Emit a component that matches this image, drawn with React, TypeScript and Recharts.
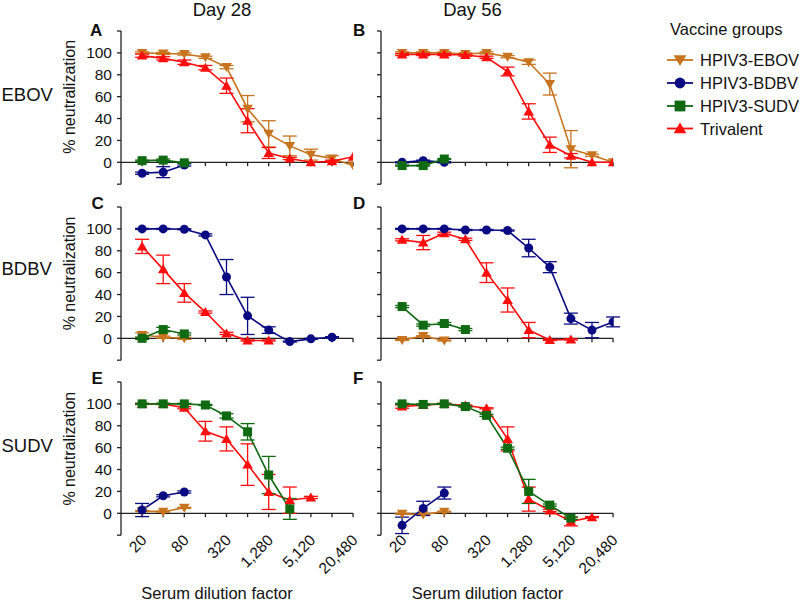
import React from 'react';
import { LineChart, Line, XAxis, YAxis, ReferenceLine, ErrorBar } from 'recharts';

const DILUTIONS = [20, 40, 80, 160, 320, 640, 1280, 2560, 5120, 10240, 20480];
const X_TICKS = [20, 80, 320, 1280, 5120, 20480];
const X_TICK_LABELS = ['20', '80', '320', '1,280', '5,120', '20,480'];
const Y_TICKS = [-20, 0, 20, 40, 60, 80, 100, 120];
const Y_LABELLED = [0, 20, 40, 60, 80, 100];

const DAYS = ['Day 28', 'Day 56'];
const VIRUSES = ['EBOV', 'BDBV', 'SUDV'];
const PANEL_LETTERS = ['A', 'B', 'C', 'D', 'E', 'F'];
const GROUPS = ['HPIV3-EBOV', 'HPIV3-BDBV', 'HPIV3-SUDV', 'Trivalent'];

// Panel A: Day 28, EBOV
const A_EBOV = [100, 99.5, 99, 96, 87, 49, 26, 15, 7, 3.5, -3];
const A_EBOV_ERR = [1, 1, 1, 1, 1.5, 12, 12, 9, 5, 2.5, 0];
const A_BDBV = [-10, -9, -2.5];
const A_BDBV_ERR = [1, 5, 1];
const A_SUDV = [1.5, 2, -0.5];
const A_SUDV_ERR = [0.5, 1, 0.5];
const A_TRI = [97.5, 95, 91.5, 86.5, 70, 38, 8.5, 3.5, 0, 1, 5];
const A_TRI_ERR = [1.5, 1.5, 2, 2, 7, 11, 5, 1, 0, 1, 0];

// Panel B: Day 56, EBOV
const B_EBOV = [100, 100, 100, 99, 100, 96.5, 91.5, 71.5, 12, 6.5, 0];
const B_EBOV_ERR = [1, 1, 1, 1, 1, 1, 2, 10, 17, 1, 0];
const B_BDBV = [0, 1.5, 0];
const B_BDBV_ERR = [0.5, 0.5, 0.5];
const B_SUDV = [-3, -3, 3];
const B_SUDV_ERR = [0.5, 0.5, 0.5];
const B_TRI = [98.5, 98.5, 98.5, 98, 96, 83, 46.5, 16, 6, 0, 0];
const B_TRI_ERR = [1, 1, 1, 1, 1, 4, 7, 7, 2, 0, 0];

// Panel C: Day 28, BDBV
const C_EBOV = [3, 1, 0];
const C_EBOV_ERR = [2, 1, 1];
const C_BDBV = [100, 100, 99.7, 94.5, 56, 20.5, 7.5, -3, -0.5, 1];
const C_BDBV_ERR = [0.5, 0.5, 0.5, 1, 16, 17, 3, 0.5, 0.5, 0.5];
const C_SUDV = [0, 8, 4];
const C_SUDV_ERR = [1, 2, 1];
const C_TRI = [84, 63, 41.5, 24, 4.5, -2, -2];
const C_TRI_ERR = [6.5, 13, 8.5, 1, 1, 0.5, 0.5];

// Panel D: Day 56, BDBV
const D_EBOV = [-1.5, 2, -2];
const D_EBOV_ERR = [0.5, 0.5, 0.5];
const D_BDBV = [100, 100, 100, 99, 99, 98.5, 82.5, 65, 18, 7.5, 15];
const D_BDBV_ERR = [0.5, 0.5, 0.5, 0.5, 0.5, 0.5, 8, 5, 5, 7, 4.5];
const D_SUDV = [29, 12, 13.5, 8];
const D_SUDV_ERR = [1, 1, 1, 1];
const D_TRI = [90, 87.5, 96, 90.5, 60, 35, 7.5, -1.5, -1];
const D_TRI_ERR = [1, 6.5, 1, 1, 9, 11, 7, 0.5, 0.5];

// Panel E: Day 28, SUDV
const E_EBOV = [2, 1.5, 5];
const E_EBOV_ERR = [0.5, 0.5, 0.5];
const E_BDBV = [3, 16, 19.5];
const E_BDBV_ERR = [6, 1, 1];
const E_SUDV = [100, 100, 100, 99, 89, 74.5, 35, 4];
const E_SUDV_ERR = [0.5, 0.5, 0.5, 0.5, 2, 7.5, 17, 9.5];
const E_TRI = [100, 100, 96.5, 75, 68, 44.5, 19.5, 12, 14.5];
const E_TRI_ERR = [0.5, 0.5, 1, 9, 11, 19, 16, 12, 1];

// Panel F: Day 56, SUDV
const F_EBOV = [-0.5, -1, 1.5];
const F_EBOV_ERR = [0.5, 0.5, 0.5];
const F_BDBV = [-11, 4.5, 18.5];
const F_BDBV_ERR = [7.5, 6.5, 5.5];
const F_SUDV = [100, 99.5, 100, 97.5, 89.5, 59.5, 20, 7.5, -4.5];
const F_SUDV_ERR = [0.5, 0.5, 0.5, 0.5, 1, 1, 11, 1, 1];
const F_TRI = [97.5, 99, 100, 98.5, 96, 68, 13, 2.5, -7.5, -3.5];
const F_TRI_ERR = [1.5, 0.5, 0.5, 0.5, 0.5, 11, 11, 1, 4, 0.5];

const COLORS: Record<string, string> = {
  ebov: '#C8731E',
  bdbv: '#0A0A82',
  sudv: '#0F6A12',
  tri: '#FF0D0D',
};
const SERIES_KEYS = ['ebov', 'bdbv', 'sudv', 'tri'];

const FONT = '"Liberation Sans", Arial, Helvetica, sans-serif';

type SeriesDef = { key: string; vals: number[]; errs: number[] };
type PanelDef = { row: number; col: number; series: SeriesDef[] };

const PANELS: PanelDef[] = [
  {
    row: 0, col: 0, series: [
      { key: 'ebov', vals: A_EBOV, errs: A_EBOV_ERR },
      { key: 'bdbv', vals: A_BDBV, errs: A_BDBV_ERR },
      { key: 'sudv', vals: A_SUDV, errs: A_SUDV_ERR },
      { key: 'tri', vals: A_TRI, errs: A_TRI_ERR },
    ],
  },
  {
    row: 0, col: 1, series: [
      { key: 'ebov', vals: B_EBOV, errs: B_EBOV_ERR },
      { key: 'bdbv', vals: B_BDBV, errs: B_BDBV_ERR },
      { key: 'sudv', vals: B_SUDV, errs: B_SUDV_ERR },
      { key: 'tri', vals: B_TRI, errs: B_TRI_ERR },
    ],
  },
  {
    row: 1, col: 0, series: [
      { key: 'ebov', vals: C_EBOV, errs: C_EBOV_ERR },
      { key: 'sudv', vals: C_SUDV, errs: C_SUDV_ERR },
      { key: 'tri', vals: C_TRI, errs: C_TRI_ERR },
      { key: 'bdbv', vals: C_BDBV, errs: C_BDBV_ERR },
    ],
  },
  {
    row: 1, col: 1, series: [
      { key: 'ebov', vals: D_EBOV, errs: D_EBOV_ERR },
      { key: 'sudv', vals: D_SUDV, errs: D_SUDV_ERR },
      { key: 'tri', vals: D_TRI, errs: D_TRI_ERR },
      { key: 'bdbv', vals: D_BDBV, errs: D_BDBV_ERR },
    ],
  },
  {
    row: 2, col: 0, series: [
      { key: 'ebov', vals: E_EBOV, errs: E_EBOV_ERR },
      { key: 'bdbv', vals: E_BDBV, errs: E_BDBV_ERR },
      { key: 'tri', vals: E_TRI, errs: E_TRI_ERR },
      { key: 'sudv', vals: E_SUDV, errs: E_SUDV_ERR },
    ],
  },
  {
    row: 2, col: 1, series: [
      { key: 'ebov', vals: F_EBOV, errs: F_EBOV_ERR },
      { key: 'bdbv', vals: F_BDBV, errs: F_BDBV_ERR },
      { key: 'tri', vals: F_TRI, errs: F_TRI_ERR },
      { key: 'sudv', vals: F_SUDV, errs: F_SUDV_ERR },
    ],
  },
];

// layout
const PLOT_LEFT = [120.6, 380.6];
const PLOT_TOP = [30.5, 207.1, 382.4];
const PLOT_W = 232.1;
const PLOT_H = 153.2;
const Y_AXIS_W = 60;
const ML = 10;
const MT = 10;
const MR = 15;
const X_AXIS_H = 50;

function Marker({ kind, cx, cy, color, s = 1 }: { kind: string; cx: number; cy: number; color: string; s?: number }) {
  if (cx == null || cy == null || isNaN(cx) || isNaN(cy)) return null;
  if (kind === 'bdbv') return <circle cx={cx} cy={cy} r={4.5 * s} fill={color} />;
  if (kind === 'sudv')
    return <rect x={cx - 4.5 * s} y={cy - 4.5 * s} width={9 * s} height={9 * s} fill={color} />;
  if (kind === 'ebov')
    return (
      <polygon
        points={`${cx - 5.3 * s},${cy - 4 * s} ${cx + 5.3 * s},${cy - 4 * s} ${cx},${cy + 5 * s}`}
        fill={color}
      />
    );
  return (
    <polygon
      points={`${cx - 5.3 * s},${cy + 4 * s} ${cx + 5.3 * s},${cy + 4 * s} ${cx},${cy - 5 * s}`}
      fill={color}
    />
  );
}

function makeXTick(bottomY: number) {
  return (props: any) => {
    const { x, payload } = props;
    const i = X_TICKS.indexOf(payload.value);
    const px = x + 5.5;
    const py = bottomY + 6;
    return (
      <text
        x={px}
        y={py}
        transform={`rotate(-45 ${px} ${py})`}
        textAnchor="end"
        fontSize={15.5}
        fontFamily={FONT}
        fill="#111"
      >
        {i >= 0 ? X_TICK_LABELS[i] : ''}
      </text>
    );
  };
}

function Panel({ panel }: { panel: PanelDef }) {
  const { row, col } = panel;
  const isBottom = row === 2;
  const left = PLOT_LEFT[col] - Y_AXIS_W - ML;
  const top = PLOT_TOP[row] - MT;
  const width = ML + Y_AXIS_W + PLOT_W + MR;
  const height = MT + PLOT_H + (isBottom ? X_AXIS_H : 10);
  const showYLabels = col === 0;
  return (
    <div style={{ position: 'absolute', left, top, width, height }}>
      <LineChart
        width={width}
        height={height}
        margin={{ top: MT, left: ML, right: MR, bottom: isBottom ? 0 : 10 }}
      >
        <XAxis
          dataKey="x"
          type="number"
          scale="log"
          domain={[10, 20480]}
          ticks={X_TICKS}
          interval={0}
          allowDataOverflow
          hide={!isBottom}
          axisLine={false}
          tickLine={false}
          height={X_AXIS_H}
          tick={makeXTick(MT + PLOT_H)}
        />
        <YAxis
          type="number"
          domain={[-20, 120]}
          ticks={Y_TICKS}
          interval={0}
          width={Y_AXIS_W}
          allowDataOverflow
          axisLine={{ stroke: '#222', strokeWidth: 1.3 }}
          tickLine={{ stroke: '#222', strokeWidth: 1.3 }}
          tickSize={4}
          tickMargin={5}
          tick={{ fill: '#111', fontSize: 15.5, fontFamily: FONT }}
          tickFormatter={(v: number) => (showYLabels && Y_LABELLED.includes(v) ? String(v) : '')}
        />
        <ReferenceLine
          segment={[{ x: 10, y: 0 }, { x: 20480, y: 0 }]}
          stroke="#222"
          strokeWidth={1.3}
          ifOverflow="visible"
        />
        {DILUTIONS.map((d) => (
          <ReferenceLine
            key={'t' + d}
            segment={[{ x: d, y: 0 }, { x: d, y: -3.5 }]}
            stroke="#222"
            strokeWidth={1.3}
            ifOverflow="visible"
          />
        ))}
        {panel.series.map((s) => {
          const data = s.vals.map((v, i) => ({ x: DILUTIONS[i], y: v, err: s.errs[i] }));
          const color = COLORS[s.key];
          return (
            <Line
              key={s.key}
              data={data}
              dataKey="y"
              type="linear"
              stroke={color}
              strokeWidth={1.6}
              isAnimationActive={false}
              dot={(p: any) => (
                <Marker key={s.key + p.index} kind={s.key} cx={p.cx} cy={p.cy} color={color} />
              )}
              activeDot={false}
            >
              <ErrorBar dataKey="err" direction="y" width={7} stroke={color} strokeWidth={1.3} />
            </Line>
          );
        })}
      </LineChart>
    </div>
  );
}

function Overlay() {
  const rowBaselines = [101, 275, 451.7];
  const letterPos = [
    [90, 35.5],
    [353, 35.5],
    [91.5, 208.5],
    [353, 208.5],
    [91.5, 383.5],
    [353, 383.5],
  ];
  const dayCenters = [222, 472.5];
  const xlabCenters = [217, 487.5];
  const legendRows = [60, 83, 106, 128.5];
  return (
    <svg
      width={800}
      height={601}
      style={{ position: 'absolute', left: 0, top: 0, pointerEvents: 'none' }}
      fontFamily={FONT}
    >
      {DAYS.map((d, i) => (
        <text key={d} x={dayCenters[i]} y={15.5} textAnchor="middle" fontSize={18.5} fill="#111">
          {d}
        </text>
      ))}
      {VIRUSES.map((v, i) => (
        <text key={v} x={1.5} y={rowBaselines[i]} fontSize={18.5} fill="#111">
          {v}
        </text>
      ))}
      {PANEL_LETTERS.map((l, i) => (
        <text key={l} x={letterPos[i][0]} y={letterPos[i][1]} fontSize={17} fontWeight="bold" fill="#111">
          {l}
        </text>
      ))}
      {PLOT_TOP.map((t, i) => {
        const cy = t + 66.3;
        return (
          <text
            key={'yl' + i}
            x={75}
            y={cy}
            transform={`rotate(-90 75 ${cy})`}
            textAnchor="middle"
            fontSize={16}
            fill="#111"
          >
            % neutralization
          </text>
        );
      })}
      {xlabCenters.map((c, i) => (
        <text key={'xl' + i} x={c} y={599} textAnchor="middle" fontSize={16.5} fill="#111">
          Serum dilution factor
        </text>
      ))}
      <text x={670} y={35} fontSize={16.5} fill="#111">
        Vaccine groups
      </text>
      {GROUPS.map((g, i) => {
        const key = SERIES_KEYS[i];
        const cy = legendRows[i];
        return (
          <g key={g}>
            <line x1={667} x2={693} y1={cy} y2={cy} stroke={COLORS[key]} strokeWidth={1.8} />
            <Marker kind={key} cx={680} cy={cy} color={COLORS[key]} s={1.2} />
            <text x={700} y={cy + 6} fontSize={16.5} fill="#111">
              {g}
            </text>
          </g>
        );
      })}
    </svg>
  );
}

export default function App() {
  return (
    <div
      style={{
        position: 'absolute',
        left: 0,
        top: 0,
        width: 800,
        height: 601,
        background: '#fff',
        overflow: 'hidden',
      }}
    >
      {PANELS.map((p, i) => (
        <Panel key={i} panel={p} />
      ))}
      <Overlay />
    </div>
  );
}
